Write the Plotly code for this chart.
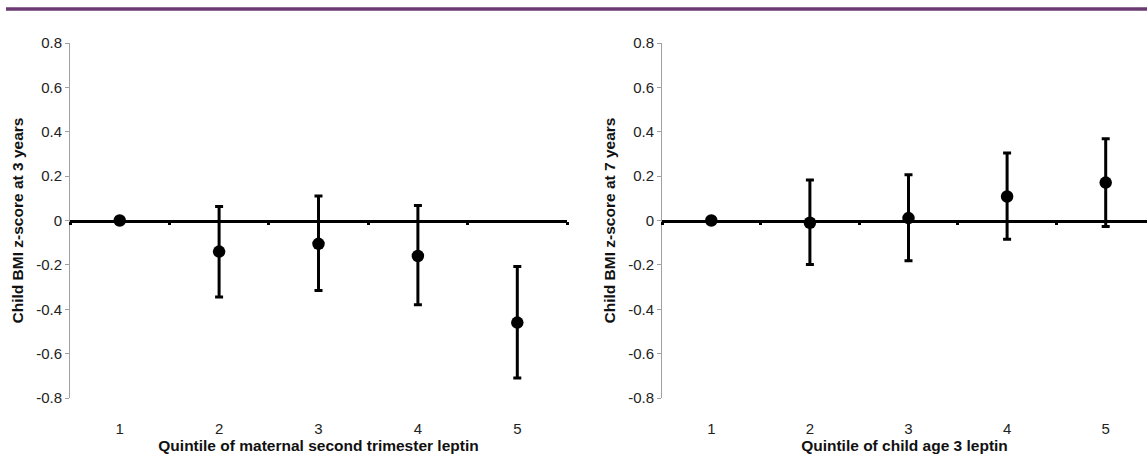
import plotly.graph_objects as go

# ---- data ----
quintiles = [1, 2, 3, 4, 5]
tick_labels = ["1", "2", "3", "4", "5"]

left_est = [0.0, -0.14, -0.105, -0.16, -0.46]
left_upper = [0.0, 0.063, 0.11, 0.068, -0.207]
left_lower = [0.0, -0.345, -0.315, -0.38, -0.71]

right_est = [0.0, -0.01, 0.011, 0.108, 0.171]
right_upper = [0.0, 0.183, 0.206, 0.304, 0.369]
right_lower = [0.0, -0.198, -0.181, -0.084, -0.027]

y_ticks = [0.8, 0.6, 0.4, 0.2, 0, -0.2, -0.4, -0.6, -0.8]
y_ticktext = ["0.8", "0.6", "0.4", "0.2", "0", "-0.2", "-0.4", "-0.6", "-0.8"]
between_ticks = [0.5, 1.5, 2.5, 3.5, 4.5, 5.5]
zero_level = [0, 0, 0, 0, 0, 0]

left_xtitle = "Quintile of maternal second trimester leptin"
right_xtitle = "Quintile of child age 3 leptin"
left_ytitle = "Child BMI z-score at 3 years"
right_ytitle = "Child BMI z-score at 7 years"

W, H = 1147, 476
FONT = "Liberation Sans, Arial, sans-serif"
TICK_SIZE = 15
TITLE_SIZE = 15.5

def px_x(p):
    return p / W

def px_y(p):
    return 1 - p / H

ydom = [px_y(398), px_y(43)]
ymid = (ydom[0] + ydom[1]) / 2
xdom_left = [px_x(70), px_x(567)]
xdom_right = [px_x(662), 1.0]
right_range_end = 0.5 + (W - 662) / 98.6

fig = go.Figure()

def add_series(est, up, lo, xa, ya):
    fig.add_trace(go.Scatter(
        x=quintiles, y=est, xaxis=xa, yaxis=ya, mode="markers",
        marker=dict(color="black", size=12.5, symbol="circle"),
        error_y=dict(type="data", symmetric=False,
                     array=[u - e for u, e in zip(up, est)],
                     arrayminus=[e - l for e, l in zip(est, lo)],
                     color="black", thickness=3, width=4),
        showlegend=False, hoverinfo="skip", cliponaxis=False,
    ))

# invisible carriers so the zero-line axes get drawn
fig.add_trace(go.Scatter(x=between_ticks, y=zero_level, xaxis="x3", yaxis="y",
                         mode="markers", marker=dict(opacity=0),
                         showlegend=False, hoverinfo="skip"))
fig.add_trace(go.Scatter(x=between_ticks, y=zero_level, xaxis="x4", yaxis="y2",
                         mode="markers", marker=dict(opacity=0),
                         showlegend=False, hoverinfo="skip"))

add_series(left_est, left_upper, left_lower, "x", "y")
add_series(right_est, right_upper, right_lower, "x2", "y2")

xbase = dict(
    tickmode="array", tickvals=quintiles, ticktext=tick_labels,
    showline=False, showgrid=False, zeroline=False,
    ticks="outside", ticklen=17, tickcolor="rgba(0,0,0,0)",
    tickfont=dict(family=FONT, size=TICK_SIZE, color="#222"),
    automargin=False,
)
ybase = dict(
    range=[-0.8, 0.8], tickmode="array", tickvals=y_ticks, ticktext=y_ticktext,
    showline=True, linecolor="#a0a0a0", linewidth=1,
    ticks="outside", ticklen=4, tickcolor="#a0a0a0",
    showgrid=False, zeroline=False,
    tickfont=dict(family=FONT, size=TICK_SIZE, color="#222"),
    automargin=False,
)
zbase = dict(
    tickmode="array", tickvals=between_ticks, showticklabels=False,
    showline=True, linecolor="black", linewidth=2.5,
    ticks="outside", ticklen=3, tickcolor="black", tickwidth=2.5,
    showgrid=False, zeroline=False, anchor="free", position=ymid,
)
tfont = dict(family=FONT, size=TITLE_SIZE, color="#111")

fig.update_layout(
    width=W, height=H,
    margin=dict(l=0, r=0, t=0, b=0),
    plot_bgcolor="white", paper_bgcolor="white",
    xaxis=dict(xbase, domain=xdom_left, range=[0.5, 5.5], anchor="y",
               title=dict(text="<b>" + left_xtitle + "</b>", standoff=2, font=tfont)),
    yaxis=dict(ybase, domain=ydom, anchor="x",
               title=dict(text="<b>" + left_ytitle + "</b>", standoff=8, font=tfont)),
    xaxis2=dict(xbase, domain=xdom_right, range=[0.5, right_range_end], anchor="y2",
                title=dict(text="<b>" + right_xtitle + "</b>", standoff=2, font=tfont)),
    yaxis2=dict(ybase, domain=ydom, anchor="x2",
                title=dict(text="<b>" + right_ytitle + "</b>", standoff=8, font=tfont)),
    xaxis3=dict(zbase, overlaying="x", range=[0.5, 5.5]),
    xaxis4=dict(zbase, overlaying="x2", range=[0.5, right_range_end]),
    shapes=[dict(type="line", xref="paper", yref="paper",
                 x0=px_x(6), x1=1, y0=px_y(9), y1=px_y(9),
                 line=dict(color="#6b3a73", width=3.5))],
)

fig.write_html("out.html", config={"displayModeBar": False},
               post_script="document.body.style.margin='0px';")
